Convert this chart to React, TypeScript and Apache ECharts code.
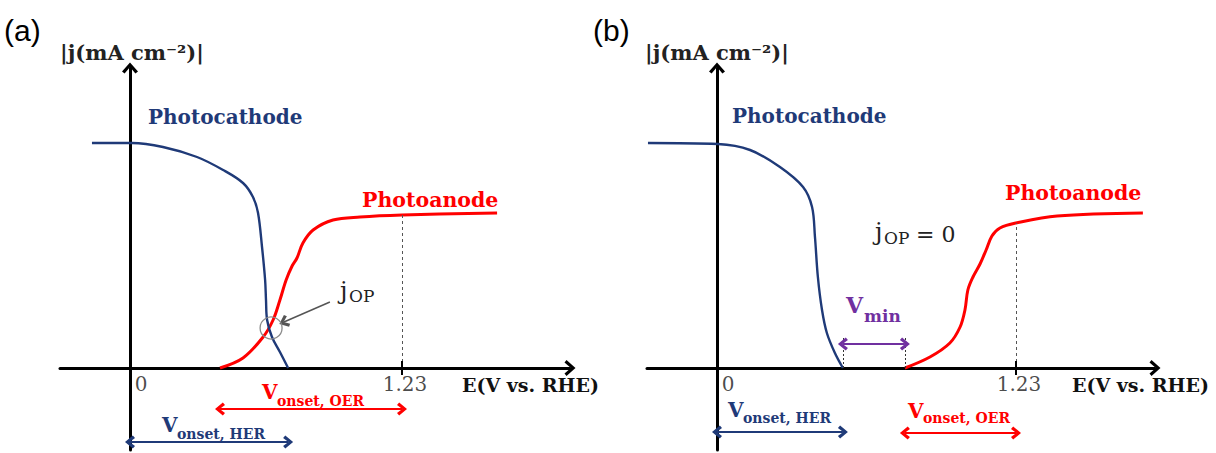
import React, { useEffect, useRef } from "react";
import * as echarts from "echarts";

// ---- Data (E in V vs. RHE, |j| in arbitrary mA cm^-2 units) ----
// Panel (a)
const photocathodeA: [number, number][] = [
  [-0.172, 9.0], [0.009, 9.0], [0.149, 8.84], [0.303, 8.44], [0.421, 7.92],
  [0.511, 7.4], [0.556, 6.84], [0.579, 6.2], [0.597, 4.84], [0.611, 3.52],
  [0.615, 2.72], [0.62, 1.92], [0.642, 1.24], [0.678, 0.64], [0.715, 0],
];
const photoanodeA: [number, number][] = [
  [0.407, 0], [0.511, 0.4], [0.602, 1.24], [0.647, 1.92], [0.678, 2.72],
  [0.706, 3.52], [0.733, 4.08], [0.755, 4.4], [0.782, 5.0], [0.828, 5.52],
  [0.918, 5.92], [1.04, 6.04], [1.23, 6.12], [1.66, 6.2],
];
// Panel (b)
const photocathodeB: [number, number][] = [
  [-0.284, 9.0], [0.004, 8.96], [0.136, 8.72], [0.259, 8.04], [0.354, 7.24],
  [0.391, 6.44], [0.403, 5.24], [0.415, 3.64], [0.432, 2.32], [0.452, 1.4],
  [0.485, 0.6], [0.518, 0],
];
const photoanodeB: [number, number][] = [
  [0.773, 0], [0.876, 0.44], [0.958, 1.0], [1.0, 1.64], [1.02, 2.32],
  [1.032, 3.12], [1.053, 3.64], [1.082, 4.16], [1.107, 4.72], [1.131, 5.28],
  [1.164, 5.6], [1.23, 5.8], [1.399, 6.08], [1.752, 6.2],
];
const E_WATER = 1.23;
const tickValues = [0, 1.23];
const tickLabels = ["0", "1.23"];
const jOpPointA: [number, number] = [0.638, 1.6];

// ---- Styles ----
const NAVY = "#1f3a78";
const RED = "#ff0000";
const PURPLE = "#7030a0";
const SERIF = "DejaVu Serif";
const SANS = "Liberation Sans";
const CHEV = "path://M0,9 L8,0 L16,9 L13.4,11 L8,4.6 L2.6,11 Z";
const CHEV_S = "path://M0,9 L8,0 L16,9 L13,11.5 L8,5.4 L3,11.5 Z";

const onsetOf = (c: [number, number][], last: boolean) => (last ? c[c.length - 1][0] : c[0][0]);
const jAt = (c: [number, number][], x: number) => {
  const p = c.find((d) => Math.abs(d[0] - x) < 1e-6);
  return p ? p[1] : 0;
};

function xAxisCfg(gridIndex: number, min: number, max: number) {
  return {
    type: "value",
    gridIndex,
    min,
    max,
    axisLine: {
      show: true,
      onZero: true,
      lineStyle: { color: "#000", width: 3 },
      symbol: ["none", CHEV],
      symbolSize: [17, 11],
    },
    axisTick: { show: false },
    splitLine: { show: false },
    axisLabel: { show: false },
  };
}

function yAxisCfg(gridIndex: number) {
  return {
    type: "value",
    gridIndex,
    min: -3.28,
    max: 12,
    axisLine: {
      show: true,
      onZero: true,
      lineStyle: { color: "#000", width: 3 },
      symbol: ["none", CHEV],
      symbolSize: [17, 11],
    },
    axisTick: { show: false },
    axisLabel: { show: false },
    splitLine: { show: false },
  };
}

const seg = (
  a: [number, number],
  b: [number, number],
  lineStyle: any,
  s0: string = "none",
  s1: string = "none"
) => [
  { coord: a, lineStyle, symbol: s0 },
  { coord: b, symbol: s1 },
];

const txt = (
  x: number,
  y: number,
  text: string,
  size: number,
  color: string,
  weight: string = "normal",
  family: string = SERIF
) => ({
  type: "text",
  x,
  y,
  silent: true,
  style: {
    text,
    fill: color,
    fontSize: size,
    fontWeight: weight,
    fontFamily: family,
    align: "left",
    verticalAlign: "middle",
    textAlign: "left",
    textVerticalAlign: "middle",
  },
});

function tickLabelSeries(i: number) {
  return {
    type: "scatter",
    xAxisIndex: i,
    yAxisIndex: i,
    symbolSize: 1,
    silent: true,
    itemStyle: { color: "rgba(0,0,0,0)" },
    label: {
      show: true,
      position: "bottom",
      distance: 5,
      textStyle: undefined,
      fontFamily: SERIF,
      fontSize: 20,
      fontWeight: "normal",
      color: "#1a1a1a",
    },
    data: tickValues.map((v, k) => ({
      value: [v, 0],
      label: {
        show: true,
        formatter: tickLabels[k],
        fontFamily: SERIF,
        fontSize: 20,
        color: "#1a1a1a",
        offset: v === 0 ? [11, 0] : [3, 0],
      },
    })),
  };
}

function buildOption() {
  const dashed = { type: [3, 3], color: "#555", width: 1 };
  const tick = { type: "solid", color: "#000", width: 2 };
  const blueOnA = onsetOf(photocathodeA, true);
  const redOnA = onsetOf(photoanodeA, false);
  const blueOnB = onsetOf(photocathodeB, true);
  const redOnB = onsetOf(photoanodeB, false);

  const markLineA = {
    silent: true,
    symbol: ["none", "none"],
    symbolSize: [13, 10],
    label: { show: false },
    emphasis: { disabled: true },
    data: [
      seg([E_WATER, 0], [E_WATER, jAt(photoanodeA, E_WATER)], dashed),
      seg([E_WATER, -0.28], [E_WATER, 0.28], tick),
      seg([redOnA, -1.64], [E_WATER, -1.64], { type: "solid", color: RED, width: 2.2 }, CHEV_S, CHEV_S),
      seg([0, -2.96], [blueOnA, -2.96], { type: "solid", color: NAVY, width: 2.2 }, CHEV_S, CHEV_S),
      seg([0.904, 2.64], [0.696, 1.84], { type: "solid", color: "#555", width: 1.5 }, "none", CHEV_S),
    ],
  };
  const markLineB = {
    silent: true,
    symbol: ["none", "none"],
    symbolSize: [13, 10],
    label: { show: false },
    emphasis: { disabled: true },
    data: [
      seg([E_WATER, 0], [E_WATER, jAt(photoanodeB, E_WATER)], dashed),
      seg([E_WATER, -0.28], [E_WATER, 0.28], tick),
      seg([blueOnB, 0], [blueOnB, 1.24], { type: [2, 2], color: "#333", width: 1 }),
      seg([redOnB, 0], [redOnB, 1.24], { type: [2, 2], color: "#333", width: 1 }),
      seg([blueOnB, 0.96], [redOnB, 0.96], { type: "solid", color: PURPLE, width: 2.2 }, CHEV_S, CHEV_S),
      seg([0, -2.56], [blueOnB, -2.56], { type: "solid", color: NAVY, width: 2.2 }, CHEV_S, CHEV_S),
      seg([redOnB, -2.6], [E_WATER, -2.6], { type: "solid", color: RED, width: 2.2 }, CHEV_S, CHEV_S),
    ],
  };

  const line = (data: [number, number][], i: number, color: string, width: number, extra: any = {}) => ({
    type: "line",
    xAxisIndex: i,
    yAxisIndex: i,
    data,
    smooth: 0.35,
    symbol: "none",
    silent: true,
    lineStyle: { color, width },
    ...extra,
  });

  const graphics = [
    // panel (a)
    txt(4, 30, "(a)", 30, "#000", "normal", SANS),
    txt(60, 52, "|j(mA cm⁻²)|", 21, "#222", "bold"),
    txt(148, 117, "Photocathode", 20, NAVY, "bold"),
    txt(362, 200, "Photoanode", 20.5, RED, "bold"),
    txt(340, 291, "j", 24, "#222"),
    txt(349, 296, "OP", 17, "#222"),
    txt(462, 385, "E(V vs. RHE)", 19, "#111", "bold"),
    txt(262, 392, "V", 20, RED, "bold"),
    txt(277, 401, "onset, OER", 14, RED, "bold"),
    txt(162, 425, "V", 20, NAVY, "bold"),
    txt(177, 434, "onset, HER", 14, NAVY, "bold"),
    // panel (b)
    txt(593, 30, "(b)", 30, "#000", "normal", SANS),
    txt(645, 52, "|j(mA cm⁻²)|", 21, "#222", "bold"),
    txt(732, 116, "Photocathode", 20, NAVY, "bold"),
    txt(1005, 193, "Photoanode", 20.5, RED, "bold"),
    txt(875, 232, "j", 24, "#222"),
    txt(884, 238, "OP", 17, "#222"),
    txt(916, 234, "= 0", 22, "#222"),
    txt(846, 305, "V", 22, PURPLE, "bold"),
    txt(864, 316, "min", 17, PURPLE, "bold"),
    txt(1072, 385, "E(V vs. RHE)", 19, "#111", "bold"),
    txt(728, 410, "V", 20, NAVY, "bold"),
    txt(743, 418, "onset, HER", 14, NAVY, "bold"),
    txt(908, 411, "V", 20, RED, "bold"),
    txt(923, 418, "onset, OER", 14, RED, "bold"),
  ];

  return {
    animation: false,
    backgroundColor: "#fff",
    grid: [
      { left: 60, width: 510, top: 68, height: 382, containLabel: false, outerBoundsMode: "none" },
      { left: 647, width: 508, top: 68, height: 382, containLabel: false, outerBoundsMode: "none" },
    ],
    xAxis: [xAxisCfg(0, -70 / (272 / 1.23), 440 / (272 / 1.23)), xAxisCfg(1, -70 / (299 / 1.23), 438 / (299 / 1.23))],
    yAxis: [yAxisCfg(0), yAxisCfg(1)],
    series: [
      line(photoanodeA, 0, RED, 3),
      line(photocathodeA, 0, NAVY, 2.4, {
        markLine: markLineA,
        markPoint: {
          silent: true,
          symbol: "circle",
          symbolSize: 22,
          itemStyle: { color: "rgba(0,0,0,0)", borderColor: "#8a8a8a", borderWidth: 1.3 },
          label: { show: false },
          data: [{ coord: jOpPointA }],
        },
      }),
      tickLabelSeries(0),
      line(photoanodeB, 1, RED, 3),
      line(photocathodeB, 1, NAVY, 2.4, { markLine: markLineB }),
      tickLabelSeries(1),
    ],
    graphic: graphics,
  };
}

export default function App() {
  const ref = useRef<HTMLDivElement>(null);
  useEffect(() => {
    document.body.style.margin = "0";
    const chart = echarts.init(ref.current!, null, { renderer: "svg" });
    chart.setOption(buildOption() as any);
    return () => chart.dispose();
  }, []);
  return <div ref={ref} style={{ width: 1216, height: 453, background: "#fff" }} />;
}
